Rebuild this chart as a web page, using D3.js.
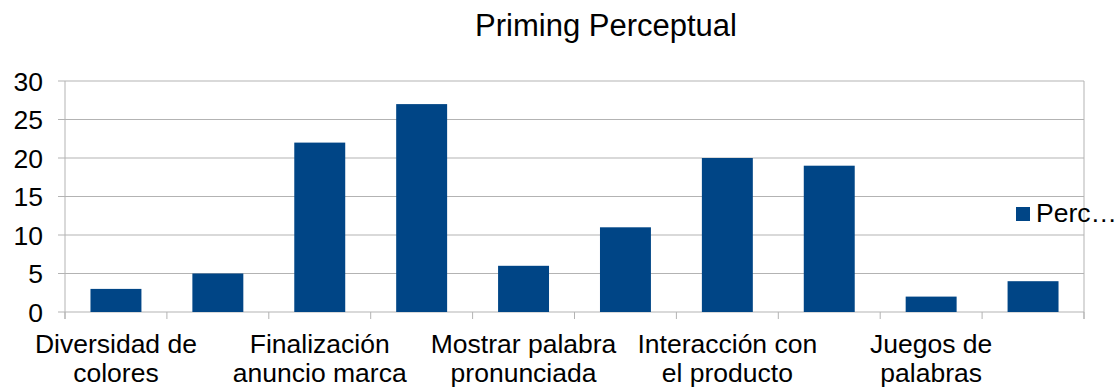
<!DOCTYPE html>
<html>
<head>
<meta charset="utf-8">
<script src="https://cdn.jsdelivr.net/npm/d3@7"></script>
<style>
  html, body { margin: 0; padding: 0; background: #fff; }
  svg { display: block; font-family: "Liberation Sans", Arial, sans-serif; }
</style>
</head>
<body>
<svg id="chart" width="1119" height="387"></svg>
<script>
// Chart data
const title = "Priming Perceptual";
const seriesName = "Perc…";
const values = [3, 5, 22, 27, 6, 11, 20, 19, 2, 4];
// Axis labels shown under every other category (two-line labels)
const categoryLabels = [
  ["Diversidad de", "colores"], null,
  ["Finalización", "anuncio marca"], null,
  ["Mostrar palabra", "pronunciada"], null,
  ["Interacción con", "el producto"], null,
  ["Juegos de", "palabras"], null
];
const yTicks = [0, 5, 10, 15, 20, 25, 30];

const svg = d3.select("#chart");
const margin = { left: 65, right: 1084, top: 81, bottom: 312 };
const barColor = "#004586";
const gridColor = "#b3b3b3";
const fontSize = 26.5;

const x = d3.scaleBand()
  .domain(d3.range(values.length))
  .range([margin.left, margin.right])
  .paddingInner(0.5)
  .paddingOuter(0.25);

const y = d3.scaleLinear()
  .domain([0, 30])
  .range([margin.bottom, margin.top]);

// Horizontal grid lines
svg.append("g")
  .selectAll("line")
  .data(yTicks)
  .join("line")
  .attr("x1", margin.left - 7)
  .attr("x2", margin.right)
  .attr("y1", d => y(d))
  .attr("y2", d => y(d))
  .attr("stroke", gridColor)
  .attr("stroke-width", 1);

// Left and right borders of the plot area
svg.append("line")
  .attr("x1", margin.left).attr("x2", margin.left)
  .attr("y1", margin.top).attr("y2", margin.bottom + 7)
  .attr("stroke", gridColor);
svg.append("line")
  .attr("x1", margin.right).attr("x2", margin.right)
  .attr("y1", margin.top).attr("y2", margin.bottom + 7)
  .attr("stroke", gridColor);

// Category boundary ticks below the axis
const step = x.step();
const boundaries = d3.range(values.length + 1).map(i => margin.left + i * step);
svg.append("g")
  .selectAll("line")
  .data(boundaries)
  .join("line")
  .attr("x1", d => d).attr("x2", d => d)
  .attr("y1", margin.bottom).attr("y2", margin.bottom + 7)
  .attr("stroke", gridColor);

// Bars
svg.append("g")
  .selectAll("rect")
  .data(values)
  .join("rect")
  .attr("x", (d, i) => x(i))
  .attr("y", d => y(d))
  .attr("width", x.bandwidth())
  .attr("height", d => y(0) - y(d))
  .attr("fill", barColor);

// Y axis labels
svg.append("g")
  .selectAll("text")
  .data(yTicks)
  .join("text")
  .attr("x", 43)
  .attr("y", d => y(d))
  .attr("dy", "0.36em")
  .attr("text-anchor", "end")
  .attr("font-size", fontSize)
  .attr("fill", "#000")
  .text(d => d);

// Category labels
const catG = svg.append("g");
categoryLabels.forEach((lines, i) => {
  if (!lines) return;
  const t = catG.append("text")
    .attr("text-anchor", "middle")
    .attr("font-size", fontSize)
    .attr("fill", "#000");
  lines.forEach((ln, k) => {
    t.append("tspan")
      .attr("x", x(i) + x.bandwidth() / 2)
      .attr("y", 353 + k * 28.5)
      .text(ln);
  });
});

// Title
svg.append("text")
  .attr("x", 606)
  .attr("y", 36)
  .attr("text-anchor", "middle")
  .attr("font-size", 31)
  .attr("fill", "#000")
  .text(title);

// Legend
svg.append("rect")
  .attr("x", 1016).attr("y", 207)
  .attr("width", 14).attr("height", 14)
  .attr("fill", barColor);
svg.append("text")
  .attr("x", 1036).attr("y", 222)
  .attr("font-size", fontSize)
  .attr("fill", "#000")
  .text(seriesName);
</script>
</body>
</html>
